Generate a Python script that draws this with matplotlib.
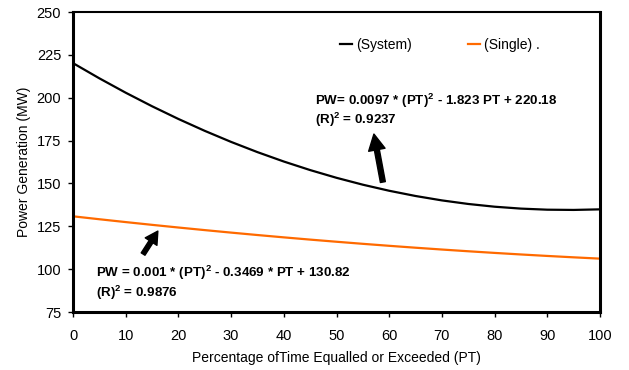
import matplotlib
matplotlib.use("Agg")
import matplotlib.pyplot as plt

plt.rcParams['font.family'] = ['Liberation Sans', 'DejaVu Sans']
plt.rcParams['mathtext.fontset'] = 'custom'
plt.rcParams['mathtext.rm'] = 'Liberation Sans'
plt.rcParams['mathtext.bf'] = 'Liberation Sans:bold'

pt = [0, 5, 10, 15, 20, 25, 30, 35, 40, 45, 50, 55, 60, 65, 70, 75, 80, 85, 90, 95, 100]
system_mw = [220.18, 211.31, 202.92, 195.02, 187.60, 180.67, 174.22, 168.26, 162.78, 157.79,
             153.28, 149.26, 145.72, 142.67, 140.10, 138.02, 136.42, 135.31, 134.68, 134.54, 134.88]
single_mw = [130.82, 129.11, 127.45, 125.84, 124.28, 122.77, 121.31, 119.90, 118.54, 117.23,
             115.98, 114.77, 113.61, 112.50, 111.44, 110.43, 109.47, 108.56, 107.70, 106.89, 106.13]
series_labels = ["(System)", "(Single) ."]
x_ticks = [0, 10, 20, 30, 40, 50, 60, 70, 80, 90, 100]
y_ticks = [75, 100, 125, 150, 175, 200, 225, 250]

fig = plt.figure(figsize=(6.29, 3.70), dpi=100)
ax = fig.add_axes([73/629, 1-312/370, 527/629, 300/370])

ax.plot(pt, system_mw, color='black', lw=1.6, label=series_labels[0])
ax.plot(pt, single_mw, color='#FF6A00', lw=1.6, label=series_labels[1])

ax.set_xlim(0, 100)
ax.set_ylim(75, 250)
ax.set_xticks(x_ticks)
ax.set_yticks(y_ticks)
ax.tick_params(direction='out', length=3.5, width=1, labelsize=10.5, colors='black')
ax.tick_params(axis='x', pad=8.5)
ax.tick_params(axis='y', pad=5)
for s in ['left', 'bottom', 'right']:
    ax.spines[s].set_linewidth(2.2)
ax.spines['top'].set_linewidth(1.5)

ax.set_xlabel("Percentage ofTime Equalled or Exceeded (PT)", fontsize=10, labelpad=6)
ax.set_ylabel("Power Generation (MW)", fontsize=10, labelpad=4)

leg = ax.legend(loc='center', bbox_to_anchor=(0.696, 0.89), ncol=2, frameon=False,
                fontsize=10, handlelength=0.9, handletextpad=0.3, columnspacing=4.0)

fs = 9.6
ax.text(45.9, 198.1, r"PW= 0.0097 * (PT)$^{\mathbf{2}}$ - 1.823 PT + 220.18",
        fontsize=fs, fontweight='bold', va='center')
ax.text(45.9, 187.0, r"(R)$^{\mathbf{2}}$ = 0.9237", fontsize=fs, fontweight='bold', va='center')
ax.text(4.3, 97.8, r"PW = 0.001 * (PT)$^{\mathbf{2}}$ - 0.3469 * PT + 130.82",
        fontsize=fs, fontweight='bold', va='center')
ax.text(4.3, 86.1, r"(R)$^{\mathbf{2}}$ = 0.9876", fontsize=fs, fontweight='bold', va='center')

ax.annotate("", xy=(57.1, 178.8), xytext=(58.8, 150.8),
            arrowprops=dict(width=3.6, headwidth=12, headlength=11.5, facecolor='black',
                            edgecolor='black', shrink=0))
ax.annotate("", xy=(16.1, 122.2), xytext=(13.3, 108.8),
            arrowprops=dict(width=3.2, headwidth=10, headlength=9, facecolor='black',
                            edgecolor='black', shrink=0))

fig.savefig("out.png", dpi=100)
